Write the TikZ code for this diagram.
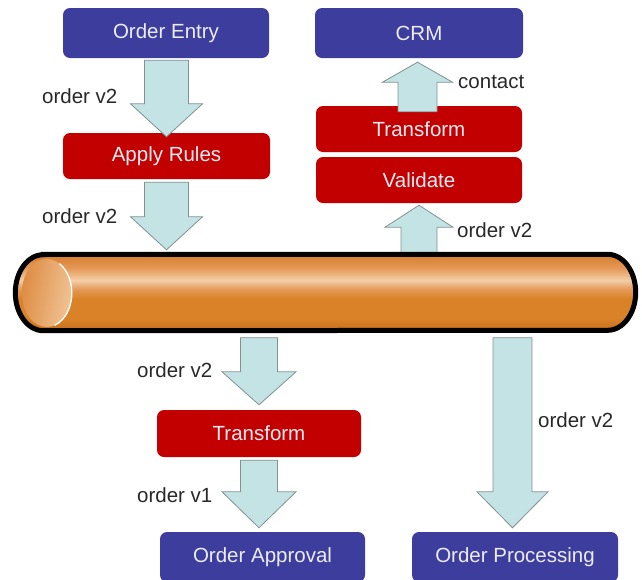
\documentclass[tikz,border=0pt]{standalone}
\usepackage{fontspec}
\setmainfont{Liberation Sans}
\usetikzlibrary{calc}

\definecolor{sysblue}{RGB}{61,61,158}
\definecolor{steprd}{RGB}{194,0,0}
\definecolor{boxtext}{RGB}{236,236,244}
\definecolor{flowfill}{RGB}{195,227,228}
\definecolor{flowline}{RGB}{130,145,145}
\definecolor{labeltext}{RGB}{40,40,40}
\definecolor{pipeA}{RGB}{200,110,28}
\definecolor{pipeB}{RGB}{218,130,40}
\definecolor{pipeC}{RGB}{228,152,86}
\definecolor{pipeL}{RGB}{243,206,168}
\definecolor{pipeE}{RGB}{214,124,44}
\definecolor{capL}{RGB}{222,140,66}
\definecolor{capR}{RGB}{240,196,150}

% shading of the message bus, bottom (25bp) to top (75bp)
\pgfdeclareverticalshading{busshade}{100bp}{%
  color(0bp)=(pipeA); color(25bp)=(pipeA); color(33bp)=(pipeB);
  color(46bp)=(pipeB); color(52bp)=(pipeC); color(58bp)=(pipeL);
  color(66bp)=(pipeC); color(75bp)=(pipeE); color(100bp)=(pipeE)}

\tikzset{
  sysbox/.style={fill=sysblue, rounded corners=7pt, text=boxtext,
    minimum width=206pt, minimum height=50pt, inner sep=0pt},
  stepbox/.style={fill=steprd, rounded corners=7pt, text=boxtext,
    minimum width=206pt, minimum height=46pt, inner sep=0pt},
  flow/.style={fill=flowfill, draw=flowline, line width=0.8pt, line join=miter},
  msg/.style={text=labeltext, anchor=west, inner sep=0pt},
}

% block arrow: start point (only its y is used), tip, shaft half width,
% head half width, signed head length
\newcommand\flowarrow[5]{%
  \draw[flow] let \p1=#1, \p2=#2 in
    ({\x2-#3pt},{\y1}) -- ({\x2+#3pt},{\y1}) -- ({\x2+#3pt},{\y2+#5pt})
    -- ({\x2+#4pt},{\y2+#5pt}) -- ({\x2},{\y2})
    -- ({\x2-#4pt},{\y2+#5pt}) -- ({\x2-#3pt},{\y2+#5pt}) -- cycle;}

\begin{document}
\begin{tikzpicture}[x=1pt, y=1pt, font=\fontsize{20.5}{24}\selectfont]
\useasboundingbox (0,0) rectangle (642,-579);
\clip (0,0) rectangle (642,-579);

% systems and processing steps
\node[sysbox] (entry) at (166,-33) {Order Entry};
\node[sysbox, minimum width=208pt] (crm) at (419,-33) {CRM};
\node[stepbox, minimum width=207pt] (rules) at (166.5,-156) {Apply Rules};
\node[stepbox] (xformA) at (419,-129) {Transform};
\node[stepbox] (valid) at (419,-180) {Validate};
\node[stepbox, minimum width=204pt, minimum height=47pt] (xformB) at (259,-433.5) {Transform};
\node[sysbox, minimum width=205pt] (approval) at (262.5,-557) {Order Approval};
\node[sysbox] (processing) at (515,-557) {Order Processing};

% message bus body
\node[minimum width=620pt, minimum height=76pt, inner sep=0pt] (bus) at (325.5,-292.5) {};
\path[shading=busshade]
  ($(bus.north west)+(28,0)$) -- ($(bus.north east)+(-28,0)$)
  arc[start angle=90, end angle=-90, x radius=28, y radius=38]
  -- ($(bus.south west)+(28,0)$)
  arc[start angle=270, end angle=90, x radius=28, y radius=38] -- cycle;
\shade[left color=capL, right color=capR, shading angle=80]
  ($(bus.west)+(31.5,-0.5)$) ellipse[x radius=25, y radius=34];
\draw[white, line width=1.3pt]
  ($(bus.west)+(31.5,-0.5)$) ++(60:25 and 34) arc[start angle=60, end angle=-72, x radius=25, y radius=34];

% message flows
\flowarrow{($(entry.south)+(0,-2)$)}{($(rules.north)+(0,-4)$)}{22}{36}{33}
\flowarrow{($(rules.south)+(0,-3)$)}{($(bus.north -| rules.south)+(0,4.5)$)}{22}{36}{33}
\flowarrow{($(xformA.north)+(0,-6)$)}{($(crm.south)+(-1.5,-4)$)}{19.5}{35}{-20}
\flowarrow{($(bus.north)+(0,-2)$)}{($(valid.south)+(0,-2)$)}{18}{34}{-22}
\flowarrow{($(bus.south)+(0,-7)$)}{($(xformB.north)+(0,5)$)}{18.5}{37}{33}
\flowarrow{($(xformB.south)+(0,-3)$)}{($(approval.north -| xformB.north)+(0,4)$)}{18.5}{37}{36}
\flowarrow{($(bus.south)+(0,-7)$)}{($(processing.north)+(-2.5,4)$)}{19.5}{35.5}{36}

% message bus outline, drawn over the flow ends
\draw[black, line width=5pt]
  ($(bus.north west)+(28,0)$) -- ($(bus.north east)+(-28,0)$)
  arc[start angle=90, end angle=-90, x radius=28, y radius=38]
  -- ($(bus.south west)+(28,0)$)
  arc[start angle=270, end angle=90, x radius=28, y radius=38] -- cycle;

% message labels
\node[msg] (l1) at (42,-96) {order v2};
\node[msg] (l2) at (42,-216) {order v2};
\node[msg] (l3) at (458,-82) {contact};
\node[msg] (l4) at (457,-230) {order v2};
\node[msg] (l5) at (137,-370) {order v2};
\node[msg] (l6) at (137,-495) {order v1};
\node[msg] (l7) at (538,-420) {order v2};
\end{tikzpicture}
\end{document}
